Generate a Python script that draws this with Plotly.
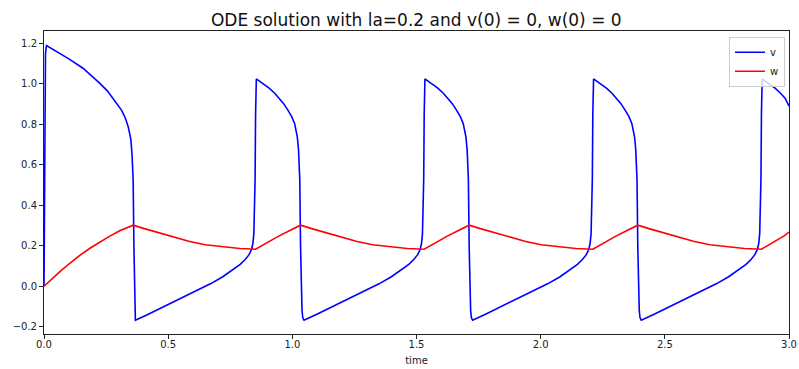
import plotly.graph_objects as go

# ---- data ----
t_v = [0.000, 0.003, 0.006, 0.010, 0.050, 0.100, 0.157, 0.200, 0.225, 0.255, 0.278, 0.296, 0.312, 0.327, 0.339,
       0.346, 0.350, 0.355, 0.357, 0.359, 0.362, 0.364, 0.365, 0.366, 0.368,
       # rise 1
       0.420, 0.470, 0.520, 0.570, 0.620, 0.670, 0.720, 0.760, 0.790, 0.810, 0.825, 0.835, 0.841, 0.845,
       0.848, 0.850, 0.852, 0.855,
       # fall 1
       0.880, 0.908, 0.930, 0.948, 0.965, 0.982, 0.997, 1.009, 1.016, 1.020, 1.025, 1.028, 1.030, 1.033,
       1.036, 1.039, 1.042, 1.047,
       # rise 2
       1.099, 1.149, 1.199, 1.249, 1.299, 1.349, 1.399, 1.439, 1.469, 1.489, 1.504, 1.514, 1.520, 1.524,
       1.527, 1.529, 1.531, 1.534,
       # fall 2
       1.559, 1.587, 1.609, 1.627, 1.644, 1.661, 1.676, 1.688, 1.695, 1.699, 1.704, 1.707, 1.709, 1.712,
       1.715, 1.718, 1.721, 1.726,
       # rise 3
       1.778, 1.828, 1.878, 1.928, 1.978, 2.028, 2.078, 2.118, 2.148, 2.168, 2.183, 2.193, 2.199, 2.203,
       2.206, 2.208, 2.210, 2.213,
       # fall 3
       2.238, 2.266, 2.288, 2.306, 2.323, 2.340, 2.355, 2.367, 2.374, 2.378, 2.383, 2.386, 2.388, 2.391,
       2.394, 2.397, 2.400, 2.405,
       # rise 4
       2.457, 2.507, 2.557, 2.607, 2.657, 2.707, 2.757, 2.797, 2.827, 2.847, 2.862, 2.872, 2.878, 2.882,
       2.885, 2.887, 2.889, 2.892,
       # fall 4 (partial)
       2.917, 2.945, 2.967, 2.985, 3.000]
v = [0.000, 0.600, 1.150, 1.190, 1.162, 1.124, 1.078, 1.033, 1.003, 0.966, 0.929, 0.900, 0.871, 0.833, 0.789,
     0.750, 0.723, 0.640, 0.580, 0.525, 0.200, 0.000, -0.120, -0.155, -0.168,
     -0.138, -0.108, -0.079, -0.050, -0.020, 0.012, 0.047, 0.080, 0.108, 0.132, 0.155, 0.180, 0.210, 0.260,
     0.376, 0.525, 0.850, 1.025,
     1.003, 0.978, 0.953, 0.929, 0.903, 0.871, 0.840, 0.805, 0.772, 0.739, 0.673, 0.600, 0.525, 0.200,
     0.000, -0.120, -0.155, -0.168,
     -0.138, -0.108, -0.079, -0.050, -0.020, 0.012, 0.047, 0.080, 0.108, 0.132, 0.155, 0.180, 0.210, 0.260,
     0.376, 0.525, 0.850, 1.025,
     1.003, 0.978, 0.953, 0.929, 0.903, 0.871, 0.840, 0.805, 0.772, 0.739, 0.673, 0.600, 0.525, 0.200,
     0.000, -0.120, -0.155, -0.168,
     -0.138, -0.108, -0.079, -0.050, -0.020, 0.012, 0.047, 0.080, 0.108, 0.132, 0.155, 0.180, 0.210, 0.260,
     0.376, 0.525, 0.850, 1.025,
     1.003, 0.978, 0.953, 0.929, 0.903, 0.871, 0.840, 0.805, 0.772, 0.739, 0.673, 0.600, 0.525, 0.200,
     0.000, -0.120, -0.155, -0.168,
     -0.138, -0.108, -0.079, -0.050, -0.020, 0.012, 0.047, 0.080, 0.108, 0.132, 0.155, 0.180, 0.210, 0.260,
     0.376, 0.525, 0.850, 1.025,
     1.003, 0.978, 0.953, 0.929, 0.890]

t_w = [0.000, 0.030, 0.063, 0.100, 0.144, 0.185, 0.225, 0.265, 0.305, 0.335, 0.359,
       0.404, 0.448, 0.509, 0.583, 0.649, 0.717, 0.789, 0.852,
       0.897, 0.945, 0.990, 1.033,
       1.078, 1.122, 1.183, 1.257, 1.323, 1.391, 1.463, 1.531,
       1.576, 1.624, 1.669, 1.712,
       1.757, 1.801, 1.862, 1.936, 2.002, 2.070, 2.142, 2.210,
       2.255, 2.303, 2.348, 2.391,
       2.436, 2.480, 2.541, 2.615, 2.681, 2.749, 2.821, 2.889,
       2.934, 2.982, 3.000]
w = [0.000, 0.035, 0.071, 0.110, 0.153, 0.188, 0.219, 0.248, 0.274, 0.291, 0.302,
     0.285, 0.269, 0.250, 0.223, 0.205, 0.195, 0.187, 0.183,
     0.216, 0.248, 0.276, 0.302,
     0.285, 0.269, 0.250, 0.223, 0.205, 0.195, 0.187, 0.183,
     0.216, 0.248, 0.276, 0.302,
     0.285, 0.269, 0.250, 0.223, 0.205, 0.195, 0.187, 0.183,
     0.216, 0.248, 0.276, 0.302,
     0.285, 0.269, 0.250, 0.223, 0.205, 0.195, 0.187, 0.183,
     0.216, 0.250, 0.268]

x_ticks = [0.0, 0.5, 1.0, 1.5, 2.0, 2.5, 3.0]
x_tick_labels = ["0.0", "0.5", "1.0", "1.5", "2.0", "2.5", "3.0"]
y_ticks = [-0.2, 0.0, 0.2, 0.4, 0.6, 0.8, 1.0, 1.2]
y_tick_labels = ["\u22120.2", "0.0", "0.2", "0.4", "0.6", "0.8", "1.0", "1.2"]

FONT = "DejaVu Sans"

fig = go.Figure()
fig.add_trace(go.Scatter(x=t_v, y=v, mode="lines", name="v",
                         line=dict(color="#0000ff", width=1.6)))
fig.add_trace(go.Scatter(x=t_w, y=w, mode="lines", name="w",
                         line=dict(color="#ff0000", width=1.6)))

axis_common = dict(showgrid=False, zeroline=False, showline=True, mirror=True, automargin=False,
                   linecolor="#222222", linewidth=1, ticks="outside", ticklen=4,
                   tickwidth=1, tickcolor="#222222",
                   tickfont=dict(family=FONT, size=10, color="#222222"))

fig.update_layout(
    width=799, height=369,
    margin=dict(l=44, r=10, t=31, b=35),
    paper_bgcolor="white", plot_bgcolor="white",
    title=dict(text="ODE solution with la=0.2 and v(0) = 0, w(0) = 0",
               x=0.521, xanchor="center", y=0.947, yanchor="middle", yref="container",
               font=dict(family=FONT, size=17, color="#111111")),
    xaxis=dict(range=[0, 3], tickvals=x_ticks, ticktext=x_tick_labels, ticklabelstandoff=-3,
               title=dict(text="time", standoff=7, font=dict(family=FONT, size=10, color="#222222")),
               **axis_common),
    yaxis=dict(range=[-0.236, 1.262], tickvals=y_ticks, ticktext=y_tick_labels,
               **axis_common),
    legend=dict(x=0.9946, y=0.981, xanchor="right", yanchor="top",
                bgcolor="rgba(255,255,255,0.8)", bordercolor="#cccccc", borderwidth=1,
                font=dict(family=FONT, size=10, color="#222222"),
                itemwidth=30, tracegroupgap=0),
    showlegend=True,
)

fig.write_html("out.html", config={"displayModeBar": False},
               post_script="document.body.style.margin='0px';")
